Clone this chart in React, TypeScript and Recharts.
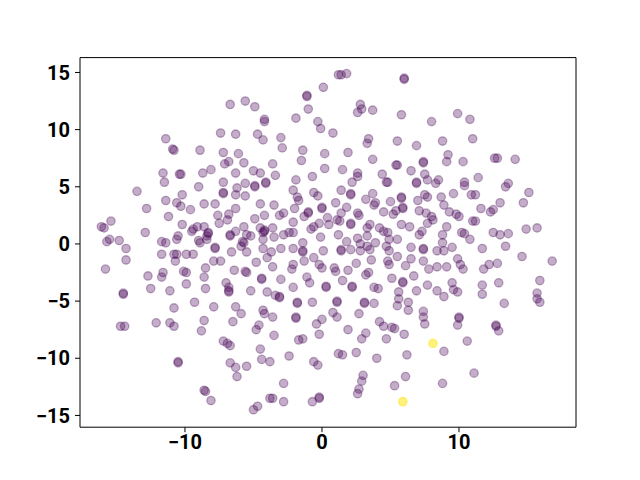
import { ScatterChart, Scatter, XAxis, YAxis, ReferenceArea } from "recharts";

// t-SNE style embedding, two groups
const groupA: [number, number][] = [
  [-11.4, 9.2], [-10.9, 8.3], [-10.8, 8.2], [-8.9, 8.2], [-11.6, 6.2], [-10.4, 6.1], [-10.3, 6.1], [-8.7, 6.2], [-11.5, 5.4],
  [-1.1, 13.0], [-1.1, 12.9], [0.1, 13.7], [-6.7, 12.2], [-5.6, 12.5], [-4.9, 12.0], [-1.0, 11.8], [-4.2, 10.9], [-4.2, 10.7],
  [-1.9, 11.0], [-0.3, 10.7], [-0.1, 10.1], [-7.4, 9.7], [-6.3, 9.6], [-4.7, 9.6], [-4.3, 9.1], [-3.0, 9.3], [-2.9, 8.4],
  [-1.4, 8.2], [-1.5, 7.3], [0.2, 7.9], [-7.2, 8.0], [-6.1, 7.9], [-6.8, 7.2], [-7.1, 7.0], [-5.7, 7.1], [-3.6, 7.0],
  [-8.1, 6.5], [-6.3, 6.2], [-5.0, 6.4], [-4.5, 6.2], [-3.4, 6.0], [-1.9, 5.6], [-0.7, 5.9], [0.2, 6.6], [-7.2, 5.4],
  [-5.6, 5.3], [-4.1, 5.4], [-4.1, 5.3],
  [1.2, 14.8], [1.4, 14.8], [1.8, 14.9], [6.0, 14.5], [6.0, 14.4], [2.8, 12.2], [2.9, 11.8], [2.6, 11.5], [3.7, 11.7],
  [5.8, 11.3], [8.0, 10.7], [0.8, 9.7], [3.4, 9.2], [3.3, 8.8], [5.5, 9.0], [6.9, 8.6], [8.8, 9.0], [1.9, 8.0], [3.7, 7.4],
  [5.4, 6.9], [5.5, 6.9], [7.4, 7.2], [7.4, 7.1], [9.2, 7.8], [9.1, 7.2], [1.5, 6.5], [6.5, 6.4], [2.6, 6.2], [2.6, 5.9],
  [4.4, 6.1], [7.5, 6.1], [2.2, 5.4], [4.7, 5.4], [4.8, 5.4], [6.9, 5.4], [6.9, 5.3], [7.7, 5.6], [8.3, 5.3], [8.5, 5.6],
  [9.9, 11.4], [10.8, 10.9], [11.0, 9.2], [10.3, 7.2], [12.6, 7.5], [12.8, 7.5], [14.1, 7.4], [10.4, 5.4], [11.4, 5.8], [13.6, 5.3],
  [-13.5, 4.6], [-9.0, 5.0], [-10.2, 4.3], [-11.4, 3.8], [-10.6, 3.6], [-10.3, 3.3], [-9.6, 3.0], [-8.6, 3.5], [-12.8, 3.1],
  [-11.2, 2.4], [-15.4, 2.0], [-16.1, 1.5], [-15.9, 1.4], [-10.2, 1.7], [-9.1, 1.5], [-9.4, 1.3], [-9.5, 1.1], [-8.6, 1.5],
  [-12.9, 1.0], [-15.5, 0.4], [-15.7, 0.2], [-14.8, 0.3], [-10.5, 0.7], [-10.6, 0.4], [-11.7, 0.2], [-11.4, 0.1], [-9.0, 0.3],
  [-8.9, 0.1], [-14.3, -0.4], [-14.3, -1.4], [-11.7, -0.9], [-10.8, -0.9], [-10.6, -0.9], [-9.9, -0.9], [-9.4, -0.9],
  [-10.7, -1.5], [-15.8, -2.2], [-10.1, -2.4], [-9.9, -2.5], [-11.6, -2.5], [-11.7, -2.9], [-12.7, -2.8], [-9.9, -3.5],
  [-8.6, -2.9], [-12.5, -3.9], [-11.1, -4.1], [-14.5, -4.4], [-14.5, -4.3], [-9.3, -5.1], [-8.5, -3.9],
  [-7.2, 4.5], [-7.2, 4.4], [-6.2, 4.9], [-6.3, 4.3], [-4.9, 5.1], [-4.9, 5.0], [-5.6, 4.2], [-2.1, 4.7], [-1.8, 4.1],
  [-1.7, 3.8], [-0.6, 4.5], [-0.3, 4.2], [-7.8, 3.5], [-6.3, 3.1], [-4.5, 3.5], [-3.5, 3.4], [-2.0, 3.1], [0.0, 3.2],
  [0.0, 3.1], [-7.6, 2.5], [-6.8, 2.6], [-6.9, 2.1], [-7.5, 1.8], [-5.7, 1.5], [-4.9, 2.2], [-4.2, 2.5], [-3.1, 2.5],
  [-2.8, 2.7], [-1.3, 2.4], [-1.0, 2.7], [-1.0, 2.8], [-2.1, 1.9], [-8.3, 1.0], [-8.3, 0.9], [-8.4, 0.7], [-6.3, 1.1],
  [-6.7, 0.8], [-6.7, 0.7], [-5.5, 0.8], [-5.2, 0.7], [-4.5, 1.4], [-4.2, 1.1], [-4.2, 1.2], [-4.3, 1.0], [-3.6, 1.4],
  [-2.8, 0.8], [-2.4, 1.0], [-2.1, 1.0], [-0.8, 1.3], [-0.6, 1.5], [-0.2, 1.8], [-0.1, 0.6], [-3.5, 0.6], [-4.3, 0.4],
  [-1.4, 0.1], [-8.4, 0.4], [-5.7, 0.1], [-5.8, 0.2], [-5.9, -0.2], [-7.8, -0.4], [-7.8, -0.3], [-6.6, -0.7], [-5.5, -0.7],
  [-4.3, -0.4], [-3.7, -0.7], [-4.0, -1.2], [-3.0, -0.4], [-2.1, -0.4], [-1.4, -0.7], [-1.4, -0.6], [-1.3, -1.5],
  [-0.6, -1.2], [0.1, -0.6], [-7.9, -1.5], [-7.4, -1.5], [-8.5, -2.1], [-4.8, -1.6], [-3.6, -2.0], [-2.1, -1.8],
  [-2.2, -2.2], [-0.2, -1.8], [0.0, -2.1], [-6.4, -2.3], [-5.6, -2.4], [-5.5, -2.5], [-4.4, -3.1], [-4.4, -3.0],
  [-3.0, -3.1], [-1.1, -2.9], [-0.9, -3.4], [-7.0, -3.4], [-6.8, -3.8], [-6.8, -4.2], [-6.8, -4.1], [-5.2, -4.1],
  [-4.0, -4.2], [-2.1, -3.8], [0.3, -3.8], [0.3, -3.7], [-3.4, -4.5], [-3.1, -4.7], [-3.1, -4.6], [-1.8, -5.2], [-1.8, -5.1],
  [-0.7, -5.1],
  [1.4, 4.7], [2.1, 4.3], [2.1, 4.4], [3.7, 4.4], [3.9, 3.6], [3.8, 3.4], [3.2, 3.9], [5.0, 3.7], [5.8, 4.1], [5.8, 4.0],
  [5.9, 3.1], [5.9, 3.2], [5.4, 2.9], [5.2, 2.6], [4.5, 2.8], [7.5, 4.3], [7.7, 4.1], [7.0, 3.8], [8.7, 4.1], [8.9, 3.4],
  [9.3, 2.8], [7.1, 2.9], [7.6, 2.7], [8.0, 2.4], [8.1, 2.1], [1.0, 3.6], [1.8, 3.2], [2.6, 2.7], [2.7, 2.5], [1.4, 2.7],
  [1.1, 2.1], [1.3, 2.0], [0.4, 2.3], [0.5, 1.7], [2.1, 1.7], [2.1, 1.8], [3.5, 1.7], [3.3, 1.4], [4.2, 1.4], [4.5, 1.1],
  [4.8, 1.0], [5.8, 1.7], [6.4, 1.5], [7.1, 0.8], [7.3, 1.1], [7.7, 1.8], [9.1, 1.5], [8.8, 0.8], [8.8, 0.1], [1.2, 0.8],
  [2.6, 0.5], [3.3, 0.7], [2.8, 0.0], [1.8, 0.2], [4.9, 0.4], [5.5, 0.4], [3.9, 0.1], [3.3, -0.2], [3.5, -0.5], [4.7, -0.2],
  [4.9, -0.6], [6.5, -0.3], [7.4, -0.5], [7.4, -0.4], [8.4, -0.6], [8.9, -0.6], [1.4, -0.6], [1.4, -0.5], [2.1, -0.5],
  [2.8, -0.6], [3.6, -1.4], [4.8, -1.5], [4.9, -1.8], [5.5, -1.1], [6.5, -1.3], [6.1, -1.9], [7.4, -1.5], [0.9, -2.1],
  [1.0, -2.4], [1.9, -2.3], [2.5, -1.7], [3.4, -2.5], [3.2, -2.7], [7.8, -2.2], [8.4, -2.0], [9.1, -2.0], [1.5, -3.2],
  [5.1, -3.0], [5.9, -3.4], [5.9, -3.3], [6.7, -2.8], [7.7, -3.6], [2.2, -3.8], [2.2, -3.7], [3.8, -3.8], [4.1, -3.9],
  [5.6, -4.2], [5.6, -4.8], [6.9, -4.1], [8.4, -4.1], [8.9, -4.6], [1.1, -5.1], [1.1, -5.0], [3.1, -5.2], [3.1, -5.1],
  [3.8, -5.2], [6.3, -5.1],
  [10.4, 5.1], [13.4, 5.0], [15.1, 4.5], [9.6, 4.4], [10.9, 4.3], [11.2, 4.3], [14.7, 3.6], [13.0, 3.6], [11.6, 3.1],
  [12.3, 2.8], [12.5, 3.0], [9.8, 2.6], [10.0, 2.4], [11.0, 2.0], [11.2, 2.0], [12.5, 1.0], [13.0, 0.8], [13.6, 0.9],
  [14.9, 1.3], [15.7, 1.4], [10.2, 1.0], [10.4, 0.9], [10.8, 0.4], [9.5, -0.3], [11.7, -0.4], [13.4, -0.2], [14.6, -1.1],
  [16.8, -1.5], [9.9, -1.3], [10.1, -1.8], [10.3, -2.2], [11.8, -2.2], [12.2, -1.8], [12.8, -1.7], [15.9, -3.2],
  [12.9, -3.4], [9.5, -3.4], [9.6, -4.0], [9.9, -4.2], [11.7, -3.6], [11.7, -4.4], [15.7, -4.3], [15.7, -4.8],
  [15.9, -5.1], [13.3, -5.2],
  [-10.8, -5.6], [-14.7, -7.2], [-14.4, -7.2], [-12.1, -6.9], [-11.1, -6.9], [-10.8, -7.2], [-8.6, -6.7], [-8.8, -7.6],
  [-10.5, -10.4], [-10.5, -10.3], [-8.5, -12.9], [-8.6, -12.8],
  [-7.9, -5.5], [-6.3, -5.5], [-5.9, -6.1], [-4.3, -5.8], [-4.2, -6.1], [-3.6, -6.4], [-1.9, -6.5], [-1.9, -6.4],
  [-6.5, -6.8], [-4.6, -7.1], [-4.8, -7.5], [-0.4, -7.0], [0.0, -6.6], [-3.5, -8.0], [-0.2, -7.9], [-7.2, -8.5],
  [-6.9, -8.7], [-6.7, -8.9], [-1.7, -8.4], [-1.4, -8.3], [-4.5, -9.2], [-4.4, -10.1], [-3.8, -10.3], [-2.4, -9.8],
  [-6.7, -10.4], [-6.3, -10.8], [-5.5, -10.7], [-6.2, -11.6], [-0.6, -10.3], [-0.3, -10.6], [-2.8, -12.2], [-8.1, -13.7],
  [-3.8, -13.5], [-3.6, -13.5], [-2.8, -13.8], [-0.7, -13.8], [-0.2, -13.5], [-0.2, -13.4], [-4.7, -14.2], [-5.0, -14.5],
  [5.5, -5.4], [6.3, -5.8], [0.8, -6.0], [1.1, -6.4], [2.7, -6.1], [7.4, -5.9], [7.4, -6.4], [7.5, -7.0], [4.2, -6.8],
  [4.5, -7.2], [5.1, -7.3], [5.3, -7.4], [1.9, -7.5], [3.2, -7.8], [2.9, -8.3], [6.0, -7.9], [4.7, -8.3], [8.9, -9.4],
  [1.2, -9.6], [1.5, -9.7], [2.5, -9.5], [4.0, -10.0], [6.2, -9.7], [3.0, -11.5], [2.9, -12.0], [2.7, -12.7], [2.6, -13.1],
  [6.1, -11.6], [5.3, -12.4], [8.8, -12.2],
  [10.0, -6.5], [10.0, -6.4], [9.9, -7.1], [12.7, -7.2], [12.7, -7.1], [12.9, -7.6], [10.6, -8.5], [11.1, -11.3],
];

const groupB: [number, number][] = [
  [8.1, -8.7],
  [5.9, -13.8],
];

const xTicks = [-10, 0, 10];
const yTicks = [-15, -10, -5, 0, 5, 10, 15];

const xDomain: [number, number] = [-17.66, 18.54];
const yDomain: [number, number] = [-16.03, 16.3];

const PURPLE = "#440154";
const YELLOW = "#fde725";

const fmt = (v: number) => (v < 0 ? `\u2212${Math.abs(v)}` : `${v}`);

const makeDot = (color: string, alpha: number) => (props: any) => (
  <circle
    cx={props.cx}
    cy={props.cy}
    r={4.2}
    fill={color}
    fillOpacity={alpha}
    stroke={color}
    strokeOpacity={alpha}
    strokeWidth={1.3}
  />
);

const tickStyle = { fontSize: 20, fontWeight: "bold", fill: "#000", fontFamily: "Roboto" };

export default function App() {
  const dataA = groupA.map(([x, y]) => ({ x, y }));
  const dataB = groupB.map(([x, y]) => ({ x, y }));

  return (
    <div style={{ position: "absolute", left: 0, top: 0, background: "#fff" }}>
      <ScatterChart
        width={640}
        height={480}
        margin={{ top: 57.6, right: 64, bottom: 22.8, left: 20 }}
      >
        <XAxis
          type="number"
          dataKey="x"
          domain={xDomain}
          ticks={xTicks}
          allowDataOverflow
          height={30}
          axisLine={false}
          tickLine={{ stroke: "#000" }}
          tickSize={5}
          tickMargin={3}
          tick={tickStyle}
          tickFormatter={fmt}
        />
        <YAxis
          type="number"
          dataKey="y"
          domain={yDomain}
          ticks={yTicks}
          allowDataOverflow
          width={60}
          axisLine={false}
          tickLine={{ stroke: "#000" }}
          tickSize={5}
          tickMargin={5}
          tick={tickStyle}
          tickFormatter={fmt}
        />
        <ReferenceArea
          x1={xDomain[0]}
          x2={xDomain[1]}
          y1={yDomain[0]}
          y2={yDomain[1]}
          fill="none"
          stroke="#000"
          strokeWidth={1}
          ifOverflow="visible"
        />
        <Scatter data={dataA} shape={makeDot(PURPLE, 0.32)} isAnimationActive={false} />
        <Scatter data={dataB} shape={makeDot(YELLOW, 0.6)} isAnimationActive={false} />
      </ScatterChart>
    </div>
  );
}
